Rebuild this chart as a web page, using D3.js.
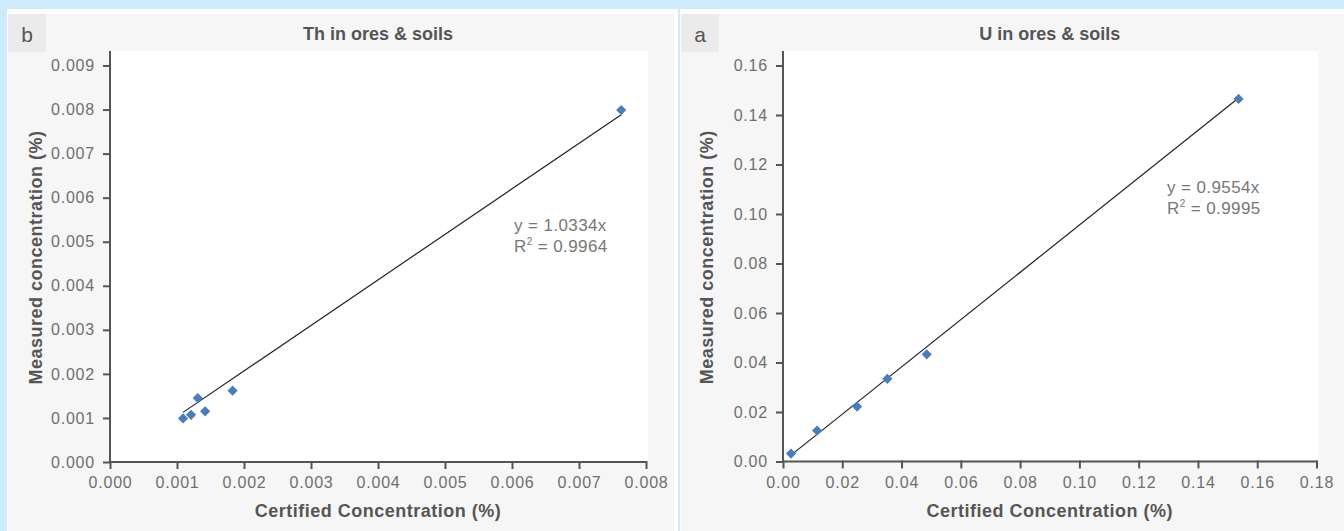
<!DOCTYPE html>
<html>
<head>
<meta charset="utf-8">
<script src="https://cdn.jsdelivr.net/npm/d3@7"></script>
<style>
  html, body { margin: 0; padding: 0; background: #cdebfd; }
  svg { display: block; }
  text { font-family: "Liberation Sans", Arial, Helvetica, sans-serif; }
</style>
</head>
<body>
<svg id="chart" width="1344" height="531"></svg>
<script>
// ---- data ----
const thCertified = [0.00109, 0.00121, 0.00131, 0.00142, 0.00183, 0.00763];
const thMeasured  = [0.00099, 0.00107, 0.00145, 0.00115, 0.00162, 0.00799];
const thXTicks = [0, 0.001, 0.002, 0.003, 0.004, 0.005, 0.006, 0.007, 0.008];
const thYTicks = [0, 0.001, 0.002, 0.003, 0.004, 0.005, 0.006, 0.007, 0.008, 0.009];
const thSlope = 1.0334;
const thEquation = ["y = 1.0334x", "R² = 0.9964"];

const uCertified = [0.0027, 0.0115, 0.0250, 0.0352, 0.0485, 0.1537];
const uMeasured  = [0.0032, 0.0125, 0.0222, 0.0334, 0.0433, 0.1465];
const uXTicks = [0, 0.02, 0.04, 0.06, 0.08, 0.10, 0.12, 0.14, 0.16, 0.18];
const uYTicks = [0, 0.02, 0.04, 0.06, 0.08, 0.10, 0.12, 0.14, 0.16];
const uSlope = 0.9554;
const uEquation = ["y = 0.9554x", "R² = 0.9995"];

const svg = d3.select("#chart");

function panel(cfg) {
  const g = svg.append("g");
  // panel frame
  g.append("rect").attr("x", cfg.px).attr("y", 9).attr("width", cfg.pw).attr("height", 522).attr("fill", "#ffffff");
  g.append("rect").attr("x", cfg.px + 1).attr("y", 14).attr("width", cfg.pw - 5).attr("height", 517).attr("fill", "#f6f6f6");
  // letter box
  g.append("rect").attr("x", cfg.px + 1).attr("y", 14).attr("width", 38).attr("height", 38).attr("fill", "#ebebeb");
  g.append("text").attr("x", cfg.px + 20).attr("y", 42).attr("text-anchor", "middle")
    .attr("font-size", 21).attr("fill", "#555").text(cfg.letter);

  const x = d3.scaleLinear().domain([0, cfg.xTicks[cfg.xTicks.length - 1]]).range([cfg.x0, cfg.x1]);
  const y = d3.scaleLinear().domain([0, cfg.yTicks[cfg.yTicks.length - 1]]).range([cfg.y0, cfg.y1]);

  // plot area
  g.append("rect").attr("x", cfg.x0).attr("y", cfg.top).attr("width", cfg.x1 + 2 - cfg.x0).attr("height", cfg.y0 - cfg.top).attr("fill", "#ffffff");

  // title
  g.append("text").attr("x", (cfg.x0 + cfg.x1) / 2).attr("y", 39.5).attr("text-anchor", "middle")
    .attr("font-size", 18).attr("font-weight", "bold").attr("fill", "#555").text(cfg.title);

  // axes
  const xAxis = d3.axisBottom(x).tickValues(cfg.xTicks).tickFormat(d3.format(cfg.xFmt)).tickSize(7).tickPadding(8).tickSizeOuter(0);
  const yAxis = d3.axisLeft(y).tickValues(cfg.yTicks).tickFormat(d3.format(cfg.yFmt)).tickSize(7).tickPadding(8).tickSizeOuter(0);
  const gx = g.append("g").attr("transform", `translate(0,${cfg.y0})`).call(xAxis);
  const gy = g.append("g").attr("transform", `translate(${cfg.x0},0)`).call(yAxis);
  [gx, gy].forEach(a => {
    a.select(".domain").remove();
    a.selectAll(".tick line").attr("stroke", "#555").attr("stroke-width", 2);
    a.selectAll(".tick text").attr("fill", "#6f6f6f").attr("font-size", 16)
      .attr("letter-spacing", "0.8px").attr("font-family", "'Liberation Sans', Arial, sans-serif");
  });
  gx.selectAll(".tick line").attr("y1", -1);
  // axis lines
  g.append("line").attr("x1", cfg.x0).attr("x2", cfg.x0).attr("y1", cfg.top).attr("y2", cfg.y0 + 1)
    .attr("stroke", "#555").attr("stroke-width", 2);
  g.append("line").attr("x1", cfg.x0 - 1).attr("x2", cfg.x1 + 1).attr("y1", cfg.y0).attr("y2", cfg.y0)
    .attr("stroke", "#555").attr("stroke-width", 2);

  // axis titles
  g.append("text").attr("x", (cfg.x0 + cfg.x1) / 2).attr("y", 516.5).attr("text-anchor", "middle")
    .attr("font-size", 18).attr("letter-spacing", "0.5px").attr("font-weight", "bold").attr("fill", "#555")
    .text("Certified Concentration (%)");
  g.append("text").attr("transform", `translate(${cfg.ylx},${(cfg.top + cfg.y0) / 2 + 1}) rotate(-90)`)
    .attr("text-anchor", "middle").attr("font-size", 18).attr("letter-spacing", "0.5px")
    .attr("font-weight", "bold").attr("fill", "#555")
    .text("Measured concentration (%)");

  // trendline
  const xmin = d3.min(cfg.xs), xmax = d3.max(cfg.xs);
  g.append("line").attr("x1", x(xmin)).attr("y1", y(cfg.slope * xmin))
    .attr("x2", x(xmax)).attr("y2", y(cfg.slope * xmax))
    .attr("stroke", "#222").attr("stroke-width", 1.2);

  // points
  const pts = cfg.xs.map((v, i) => [v, cfg.ys[i]]);
  g.selectAll("path.pt").data(pts).enter().append("path").attr("class", "pt")
    .attr("d", d3.symbol(d3.symbolSquare, 52))
    .attr("transform", d => `translate(${x(d[0])},${y(d[1])}) rotate(45)`)
    .attr("fill", "#4a7ebb");

  // equation
  cfg.eq.forEach((t, i) => {
    const tx = g.append("text").attr("x", cfg.eqx).attr("y", cfg.eqy + i * 21)
      .attr("font-size", 17).attr("fill", "#777").attr("letter-spacing", "0.4px");
    if (t.startsWith("R²")) {
      tx.append("tspan").text("R");
      tx.append("tspan").attr("font-size", 10).attr("dy", -7).text("2");
      tx.append("tspan").attr("dy", 7).text(t.slice(2));
    } else tx.text(t);
  });
}

panel({
  px: 7, pw: 671, letter: "b", title: "Th in ores & soils",
  x0: 110, x1: 646, y0: 462, y1: 65.5, top: 51, ylx: 42,
  xTicks: thXTicks, yTicks: thYTicks, xFmt: ".3f", yFmt: ".3f",
  xs: thCertified, ys: thMeasured, slope: thSlope, eq: thEquation, eqx: 514, eqy: 231
});
panel({
  px: 680, pw: 668, letter: "a", title: "U in ores & soils",
  x0: 783, x1: 1316.5, y0: 461.5, y1: 65.5, top: 51, ylx: 713,
  xTicks: uXTicks, yTicks: uYTicks, xFmt: ".2f", yFmt: ".2f",
  xs: uCertified, ys: uMeasured, slope: uSlope, eq: uEquation, eqx: 1167, eqy: 193
});
</script>
</body>
</html>
